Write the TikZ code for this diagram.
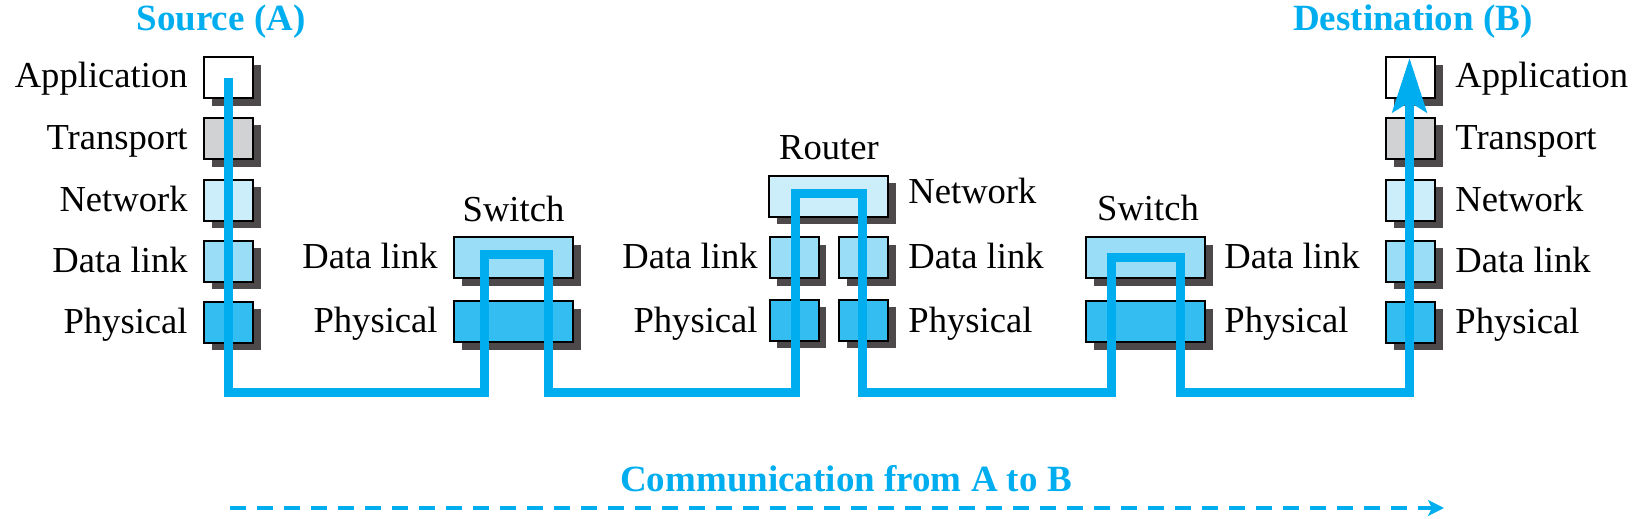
\documentclass[tikz,border=0pt]{standalone}
\usepackage{fontspec}
\setmainfont{Liberation Serif}
\usetikzlibrary{shadows,arrows.meta}
\definecolor{linecol}{HTML}{00AEEF}
\definecolor{appc}{HTML}{FFFFFF}
\definecolor{trc}{HTML}{D1D2D3}
\definecolor{netc}{HTML}{CCEDFA}
\definecolor{dlc}{HTML}{99DDF7}
\definecolor{phc}{HTML}{33BDF0}
\definecolor{shc}{HTML}{4D484A}
\tikzset{
 layerbox/.style={draw=black, line width=1pt, inner sep=0pt, minimum height=20.5pt,
   drop shadow={shadow xshift=3.75pt, shadow yshift=-3.75pt, fill=shc, opacity=1}},
 smallbox/.style={layerbox, minimum width=24.5pt},
 widebox/.style={layerbox, minimum width=59.5pt},
 lbl/.style={font=\fontsize{18.3}{20}\selectfont, inner sep=0pt},
 titletext/.style={font=\fontsize{18.5}{20}\selectfont\bfseries, text=linecol, inner sep=0pt},
 flow/.style={draw=linecol, line width=4.5pt},
 commline/.style={draw=linecol, line width=2.3pt, dash pattern=on 8pt off 5.5pt},
}
\begin{document}
\begin{tikzpicture}[x=0.5pt,y=-0.5pt]
\useasboundingbox (0,0) rectangle (1632,519);
% Left stack (Source A)
\node[smallbox, fill=appc] (aApp) at (228.5,78) {};
\node[smallbox, fill=trc]  (aTr)  at (228.5,138.5) {};
\node[smallbox, fill=netc] (aNet) at (228.5,200) {};
\node[smallbox, fill=dlc]  (aDl)  at (228.5,261) {};
\node[smallbox, fill=phc]  (aPh)  at (228.5,322) {};
\node[lbl, anchor=base east] (aAppL) at (188,88) {Application};
\node[lbl, anchor=base east] (aTrL)  at (188,149) {Transport};
\node[lbl, anchor=base east] (aNetL) at (188,211) {Network};
\node[lbl, anchor=base east] (aDlL)  at (188,272) {Data link};
\node[lbl, anchor=base east] (aPhL)  at (188,333) {Physical};
\node[titletext, anchor=base] (srcT) at (221,31) {Source (A)};
% Switch 1
\node[widebox, fill=dlc] (s1Dl) at (513.5,257.5) {};
\node[widebox, fill=phc] (s1Ph) at (513.5,321.5) {};
\node[lbl, anchor=base] (s1T) at (513.5,221) {Switch};
\node[lbl, anchor=base east] (s1DlL) at (438,268.5) {Data link};
\node[lbl, anchor=base east] (s1PhL) at (438,332.5) {Physical};
% Router
\node[widebox, fill=netc] (rNet) at (828.5,196) {};
\node[smallbox, fill=dlc] (rDlA) at (794,257.5) {};
\node[smallbox, fill=dlc] (rDlB) at (863.5,257.5) {};
\node[smallbox, fill=phc] (rPhA) at (794,320) {};
\node[smallbox, fill=phc] (rPhB) at (863.5,320) {};
\node[lbl, anchor=base] (rT) at (829,159) {Router};
\node[lbl, anchor=base west] (rNetL) at (908,203) {Network};
\node[lbl, anchor=base west] (rDlBL) at (908,268.5) {Data link};
\node[lbl, anchor=base west] (rPhBL) at (908,332.5) {Physical};
\node[lbl, anchor=base east] (rDlAL) at (758,268.5) {Data link};
\node[lbl, anchor=base east] (rPhAL) at (758,332.5) {Physical};
% Switch 2
\node[widebox, fill=dlc] (s2Dl) at (1145.5,257.5) {};
\node[widebox, fill=phc] (s2Ph) at (1145.5,321.5) {};
\node[lbl, anchor=base] (s2T) at (1148,220) {Switch};
\node[lbl, anchor=base west] (s2DlL) at (1224,268.5) {Data link};
\node[lbl, anchor=base west] (s2PhL) at (1224,332.5) {Physical};
% Right stack (Destination B)
\node[smallbox, fill=appc] (bApp) at (1410.5,78) {};
\node[smallbox, fill=trc]  (bTr)  at (1410.5,138.5) {};
\node[smallbox, fill=netc] (bNet) at (1410.5,200) {};
\node[smallbox, fill=dlc]  (bDl)  at (1410.5,261) {};
\node[smallbox, fill=phc]  (bPh)  at (1410.5,322) {};
\node[lbl, anchor=base west] (bAppL) at (1455,88) {Application};
\node[lbl, anchor=base west] (bTrL)  at (1455,149) {Transport};
\node[lbl, anchor=base west] (bNetL) at (1455,211) {Network};
\node[lbl, anchor=base west] (bDlL)  at (1455,272) {Data link};
\node[lbl, anchor=base west] (bPhL)  at (1455,333) {Physical};
\node[titletext, anchor=base east] (dstT) at (1533,31) {Destination (B)};
% Flow path coordinates
\coordinate (f0) at (228.5,78);
\coordinate (f1) at (228.5,392);
\coordinate (f2) at (484,392);
\coordinate (f3) at (484,254);
\coordinate (f4) at (548,254);
\coordinate (f5) at (548,392);
\coordinate (f6) at (795,392);
\coordinate (f7) at (795,193);
\coordinate (f8) at (862,193);
\coordinate (f9) at (862,392);
\coordinate (f10) at (1111,392);
\coordinate (f11) at (1111,257);
\coordinate (f12) at (1180,257);
\coordinate (f13) at (1180,392);
\coordinate (f14) at (1409.5,392);
\coordinate (f15) at (1409.5,58);
\draw[flow, -{Stealth[length=27pt,width=17pt,inset=5pt]}]
  (f0) -- (f1) -- (f2) -- (f3) -- (f4) -- (f5) -- (f6) -- (f7) -- (f8) -- (f9)
  -- (f10) -- (f11) -- (f12) -- (f13) -- (f14) -- (f15);
% Communication arrow
\node[titletext, anchor=base] (commT) at (846,491) {Communication from A to B};
\coordinate (c0) at (230,508);
\coordinate (c1) at (1444,508);
\draw[commline, -{Stealth[length=8pt,width=8pt,inset=2pt]}] (c0) -- (c1);
\end{tikzpicture}
\end{document}
